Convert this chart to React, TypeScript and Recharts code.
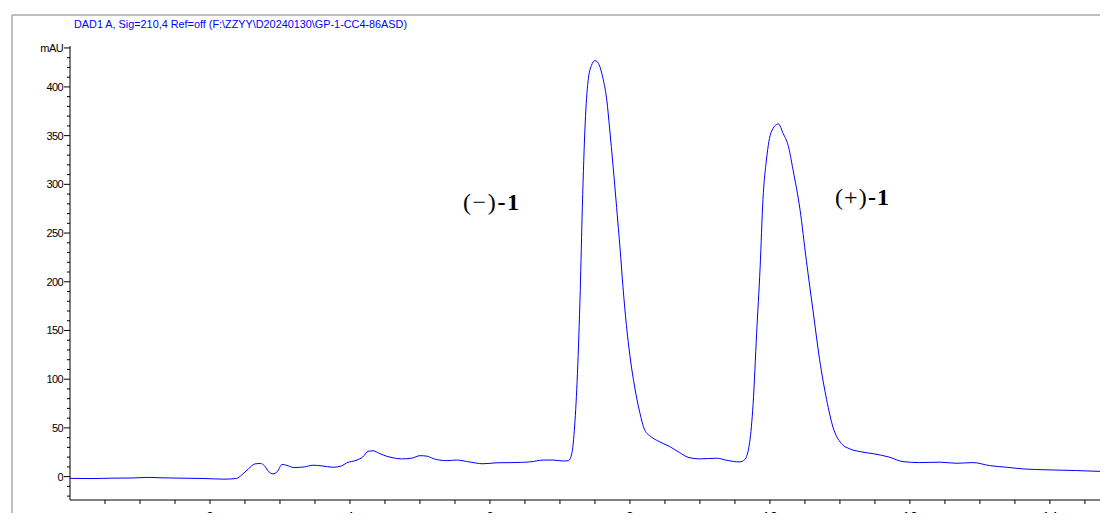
import { LineChart, Line, XAxis, YAxis } from "recharts";

// retention time (min) and detector signal (mAU)
const TIME = [
  0, 0.3, 0.6, 0.9, 1.1, 1.3, 1.6, 1.9, 2.2, 2.38,
  2.45, 2.55, 2.64, 2.72, 2.78, 2.84, 2.9, 2.96, 3.03, 3.1,
  3.2, 3.35, 3.47, 3.6, 3.76, 3.88, 3.95, 4.1, 4.18, 4.26,
  4.33, 4.43, 4.52, 4.6, 4.74, 4.88, 5.0, 5.1, 5.19, 5.38,
  5.52, 5.71, 5.9, 6.1, 6.33, 6.57, 6.76, 6.9, 7.05, 7.12,
  7.17, 7.21, 7.25, 7.29, 7.32, 7.36, 7.4, 7.45, 7.5, 7.55,
  7.62, 7.67, 7.71, 7.76, 7.81, 7.86, 7.9, 7.95, 8.0, 8.07,
  8.14, 8.21, 8.3, 8.4, 8.57, 8.71, 8.83, 9.0, 9.24, 9.38,
  9.57, 9.64, 9.71, 9.76, 9.81, 9.86, 9.9, 9.95, 10.02, 10.12,
  10.19, 10.26, 10.33, 10.43, 10.52, 10.62, 10.71, 10.81, 10.9, 11.02,
  11.14, 11.29, 11.48, 11.71, 11.9, 12.14, 12.43, 12.67, 12.9, 13.14,
  13.38, 13.62, 14.0, 14.38, 14.83,
];
const MAU = [
  -1.8, -2.0, -1.6, -1.4, -0.8, -1.2, -1.6, -1.9, -2.6, -1.9,
  1.5, 8, 13, 13.5, 11, 5, 2.8, 5, 12.5, 11.5,
  9.3, 10, 11.7, 11, 9.6, 11, 14, 17, 20, 26,
  26.5, 23.5, 21, 19.5, 18.2, 18.9, 21.5, 21, 18.5, 16.4,
  17, 15, 13.2, 14.2, 14.4, 15.1, 17, 17, 16, 16.3,
  24, 52, 106, 191, 277, 362, 405, 422, 427, 424,
  407, 386, 357, 318, 276, 233, 195, 155, 124, 91,
  66, 48, 41, 36.6, 30.8, 24.6, 19.9, 18.2, 18.9, 16.8,
  15.1, 17.5, 35, 75, 147, 215, 284, 325, 354, 362,
  352, 340, 315, 274, 222, 168, 120, 79, 51, 34,
  28.5, 25.6, 23.5, 19.9, 15.4, 14.4, 14.8, 13.7, 14.4, 11.3,
  9.6, 7.9, 6.9, 6.2, 5.1,
];

const X_TICKS = [
  0.5, 1, 1.5, 2, 2.5, 3, 3.5, 4, 4.5, 5, 5.5, 6, 6.5, 7, 7.5,
  8, 8.5, 9, 9.5, 10, 10.5, 11, 11.5, 12, 12.5, 13, 13.5, 14, 14.5,
];
const X_LABELS = [2, 4, 6, 8, 10, 12, 14];
const Y_LABELS = [0, 50, 100, 150, 200, 250, 300, 350, 400];
const Y_TICKS = Array.from({ length: 47 }, (_, i) => -20 + i * 10);

const TITLE = "DAD1 A, Sig=210,4 Ref=off (F:\\ZZYY\\D20240130\\GP-1-CC4-86ASD)";

const data = TIME.map((t, i) => ({ t, v: MAU[i] }));

const AXIS_FONT = "'Liberation Sans', Arial, sans-serif";
const SERIF = "'Liberation Serif', 'Times New Roman', serif";

// eslint-disable-next-line @typescript-eslint/no-explicit-any
function XTick({ x, y, payload }: any) {
  const v = payload.value;
  return (
    <g>
      <line x1={x} x2={x} y1={y} y2={y + 4} stroke="#000" />
      {X_LABELS.includes(v) && (
        <text x={x} y={y + 21.5} textAnchor="middle" fontSize={14} fontFamily={AXIS_FONT} fill="#000">
          {v}
        </text>
      )}
    </g>
  );
}

// eslint-disable-next-line @typescript-eslint/no-explicit-any
function YTick({ x, y, payload }: any) {
  const v = payload.value;
  const major = Y_LABELS.includes(v) || v === 440;
  const label = v === 440 ? "mAU" : Y_LABELS.includes(v) ? String(v) : null;
  return (
    <g>
      <line x1={x - (major ? 6 : 3)} x2={x} y1={y} y2={y} stroke="#000" />
      {label && (
        <text
          x={x - 7}
          y={y + 4}
          textAnchor="end"
          fontSize={11}
          letterSpacing={-0.6}
          fontFamily={AXIS_FONT}
          fill="#000"
        >
          {label}
        </text>
      )}
    </g>
  );
}

export default function App() {
  return (
    <div style={{ position: "relative", width: 1108, height: 521, margin: -8, overflow: "hidden", background: "#fff" }}>
      <LineChart
        width={1108}
        height={521}
        data={data}
        margin={{ top: 46, right: 0, left: 10, bottom: 0 }}
      >
        <XAxis
          dataKey="t"
          type="number"
          domain={[0, 14.83]}
          allowDataOverflow
          ticks={X_TICKS}
          interval={0}
          tick={<XTick />}
          tickLine={false}
          tickSize={0}
          tickMargin={0}
          height={21}
          axisLine={{ stroke: "#000" }}
        />
        <YAxis
          type="number"
          domain={[-24, 442]}
          allowDataOverflow
          ticks={Y_TICKS}
          interval={0}
          tick={<YTick />}
          tickLine={false}
          tickSize={0}
          tickMargin={0}
          width={60}
          axisLine={{ stroke: "#000" }}
        />
        <Line
          type="monotone"
          dataKey="v"
          stroke="#0000ff"
          strokeWidth={1}
          dot={false}
          activeDot={false}
          isAnimationActive={false}
        />
      </LineChart>

      <svg
        width={1108}
        height={521}
        style={{ position: "absolute", left: 0, top: 0, pointerEvents: "none" }}
      >
        {/* report frame */}
        <line x1={12} x2={1108} y1={15} y2={15} stroke="#a8a8a8" strokeWidth={1.5} />
        <line x1={12} x2={12} y1={15} y2={521} stroke="#a8a8a8" strokeWidth={1.5} />
        <text
          x={74}
          y={28}
          fontSize={11}
          fontFamily={AXIS_FONT}
          fill="#0000ff"
          textLength={333}
          lengthAdjust="spacingAndGlyphs"
        >
          {TITLE}
        </text>
        <text x={1101} y={521.5} fontSize={14} fontFamily={AXIS_FONT} fill="#000">min</text>

        {/* enantiomer labels */}
        <text x={463} y={210} fontSize={24} fontFamily={SERIF} fill="#000" textLength={56} lengthAdjust="spacing">
          (−)<tspan fontWeight="bold">-1</tspan>
        </text>
        <text x={835} y={205} fontSize={24} fontFamily={SERIF} fill="#000" textLength={54} lengthAdjust="spacing">
          (+)<tspan fontWeight="bold">-1</tspan>
        </text>
      </svg>
    </div>
  );
}
